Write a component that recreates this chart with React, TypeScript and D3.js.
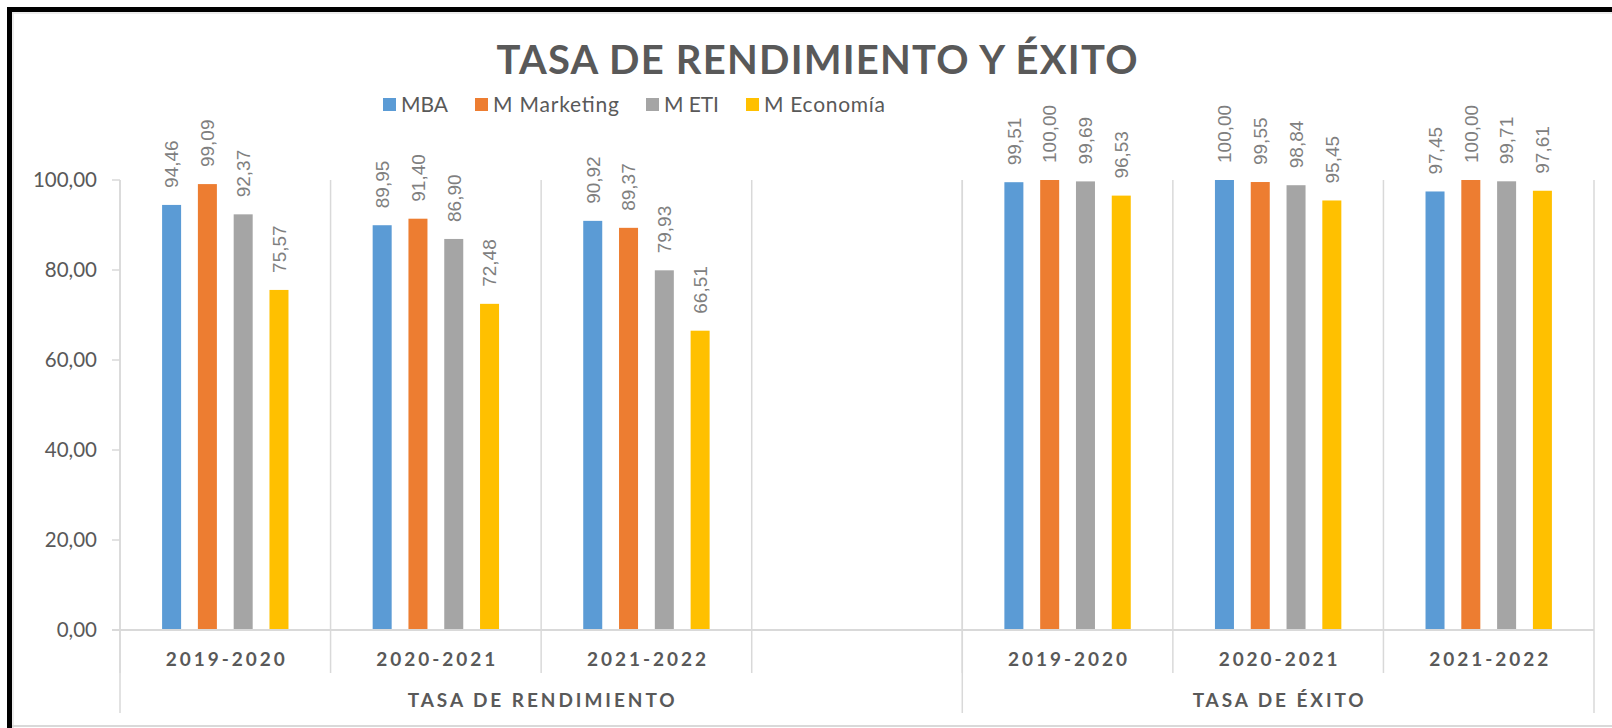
import React from 'react';
import * as d3 from 'd3';

const chartTitle = 'TASA DE RENDIMIENTO Y ÉXITO';
const series = ['MBA', 'M Marketing', 'M ETI', 'M Economía'];
const seriesColors = ['#5B9BD5', '#ED7D31', '#A5A5A5', '#FFC000'];
const years = ['2019-2020', '2020-2021', '2021-2022'];
const groups = ['TASA DE RENDIMIENTO', 'TASA DE ÉXITO'];
// first group carries an empty category after its three years
const rendimientoCats = ['2019-2020', '2020-2021', '2021-2022', ''];
const exitoCats = years;

const mbaRendimiento = [94.46, 89.95, 90.92];
const marketingRendimiento = [99.09, 91.4, 89.37];
const etiRendimiento = [92.37, 86.9, 79.93];
const economiaRendimiento = [75.57, 72.48, 66.51];

const mbaExito = [99.51, 100.0, 97.45];
const marketingExito = [100.0, 99.55, 100.0];
const etiExito = [99.69, 98.84, 99.71];
const economiaExito = [96.53, 95.45, 97.61];

const yTicks = [0, 20, 40, 60, 80, 100];

const W = 1612;
const H = 728;
const textColor = '#595959';
const lineColor = '#d9d9d9';
const font = 'Lato, "Open Sans", sans-serif';

const fmt = (v: number) => d3.format('.2f')(v).replace('.', ',');

type Slot = { key: string; group: number; cat: string; values: (number | null)[] };

const buildSlots = (): Slot[] => {
  const out: Slot[] = [];
  const groupCats = [rendimientoCats, exitoCats];
  const groupVals = [
    [mbaRendimiento, marketingRendimiento, etiRendimiento, economiaRendimiento],
    [mbaExito, marketingExito, etiExito, economiaExito],
  ];
  groupCats.forEach((cats, gi) => {
    cats.forEach((cat, ci) => {
      out.push({
        key: `${gi}|${ci}`,
        group: gi,
        cat,
        values: series.map((_, si) => (cat === '' ? null : groupVals[gi][si][ci])),
      });
    });
  });
  return out;
};

const App = () => {
  const slots = buildSlots();
  const left = 120;
  const right = 1594;
  const top = 180;
  const bottom = 630;

  const x = d3.scaleBand().domain(slots.map((s) => s.key)).range([left, right]);
  const xs = d3
    .scaleBand()
    .domain(series)
    .range([0, x.bandwidth()])
    .paddingInner(0.469)
    .paddingOuter(1.176);
  const y = d3.scaleLinear().domain([0, 100]).range([bottom, top]);

  // group boundaries
  const groupEdges: number[] = [left];
  groups.forEach((_, gi) => {
    const last = slots.filter((s) => s.group === gi).slice(-1)[0];
    groupEdges.push((x(last.key) as number) + x.bandwidth());
  });

  const legendWidths = [47, 126, 55, 121];
  let lx = 383;
  const legendItems = series.map((name, i) => {
    const item = { name, color: seriesColors[i], x: lx, w: legendWidths[i] };
    lx += 13 + 5 + legendWidths[i] + 27;
    return item;
  });

  return (
    <svg
      width={W}
      height={H}
      style={{ position: 'absolute', left: 0, top: 0, background: '#fff' }}
      fontFamily={font}
    >
      {/* frame */}
      <rect x={0} y={0} width={W} height={H} fill="#fff" />
      <rect x={7} y={7} width={W - 7} height={5} fill="#000" />
      <rect x={7} y={7} width={5} height={H - 7} fill="#000" />
      <line x1={12} x2={W} y1={13} y2={13} stroke="#e6e6e6" strokeWidth={1.5} />
      <line x1={13} x2={13} y1={12} y2={H} stroke="#e6e6e6" strokeWidth={1.5} />
      <line x1={12} x2={W} y1={726} y2={726} stroke={lineColor} strokeWidth={2} />

      {/* title */}
      <text
        x={817}
        y={74}
        textAnchor="middle"
        fontSize={40}
        fontWeight="bold"
        fill={textColor}
        textLength={641}
        lengthAdjust="spacing"
      >
        {chartTitle}
      </text>

      {/* legend */}
      {legendItems.map((it) => (
        <g key={it.name}>
          <rect x={it.x} y={98} width={13} height={13} fill={it.color} />
          <text
            x={it.x + 18}
            y={112}
            fontSize={21}
            fill={textColor}
            textLength={it.w}
            lengthAdjust="spacing"
          >
            {it.name}
          </text>
        </g>
      ))}

      {/* category separators */}
      {slots.map((s) => (
        <line
          key={'sep' + s.key}
          x1={x(s.key)}
          x2={x(s.key)}
          y1={top}
          y2={673}
          stroke={lineColor}
          strokeWidth={1.5}
        />
      ))}
      {groupEdges.map((gx, i) => (
        <line key={'g' + i} x1={gx} x2={gx} y1={top} y2={713} stroke={lineColor} strokeWidth={1.5} />
      ))}

      {/* y axis ticks */}
      {yTicks.map((t) => (
        <g key={'t' + t}>
          <line x1={left - 8} x2={left} y1={y(t)} y2={y(t)} stroke={lineColor} strokeWidth={1.5} />
          <text x={97} y={y(t)} dy="0.35em" textAnchor="end" fontSize={20.5} fill={textColor}>
            {fmt(t)}
          </text>
        </g>
      ))}

      {/* bars */}
      {slots.map((s) =>
        s.values.map((v, si) => {
          if (v === null) return null;
          const bx = (x(s.key) as number) + (xs(series[si]) as number);
          const cx = bx + xs.bandwidth() / 2;
          return (
            <g key={s.key + si}>
              <rect
                x={bx}
                y={y(v)}
                width={xs.bandwidth()}
                height={y(0) - y(v)}
                fill={seriesColors[si]}
              />
              <text
                transform={`translate(${cx + 6.8},${y(v) - 17}) rotate(-90)`}
                fontFamily='"Liberation Sans", Arial, sans-serif'
                fontSize={19}
                fill="#7f7f7f"
              >
                {fmt(v)}
              </text>
            </g>
          );
        })
      )}

      {/* x axis line */}
      <line x1={left - 8} x2={right} y1={bottom} y2={bottom} stroke={lineColor} strokeWidth={2} />

      {/* category labels */}
      {slots.map((s) =>
        s.cat ? (
          <text
            key={'c' + s.key}
            x={(x(s.key) as number) + x.bandwidth() / 2}
            y={666}
            textAnchor="middle"
            fontSize={19}
            fontWeight="bold"
            fill={textColor}
            textLength={119}
            lengthAdjust="spacing"
          >
            {s.cat}
          </text>
        ) : null
      )}

      {/* group labels */}
      {groups.map((g, gi) => (
        <text
          key={g}
          x={(groupEdges[gi] + groupEdges[gi + 1]) / 2}
          y={707}
          textAnchor="middle"
          fontSize={19}
          fontWeight="bold"
          fill={textColor}
          textLength={gi === 0 ? 267 : 171}
          lengthAdjust="spacing"
        >
          {g}
        </text>
      ))}
    </svg>
  );
};

export default App;
